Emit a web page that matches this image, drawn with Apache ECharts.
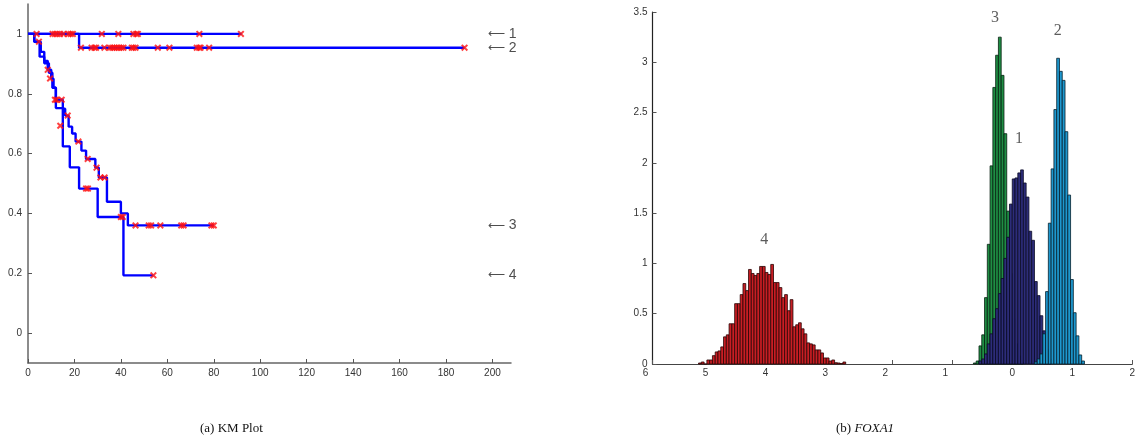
<!DOCTYPE html>
<html><head><meta charset="utf-8">
<script src="https://cdn.jsdelivr.net/npm/echarts@6/dist/echarts.min.js"></script>
<style>html,body{margin:0;padding:0;background:#fff}#c{width:1138px;height:446px}</style>
</head><body><div id="c"></div>
<script>
// ---------- KM plot data ----------
const kmTicksX = [0,20,40,60,80,100,120,140,160,180,200];
const kmTicksY = [0,0.2,0.4,0.6,0.8,1];
const curve1 = [[0,1],[92,1]];
const curve2 = [[0,1],[22,0.954],[188,0.954]];
const curve3 = [[0,1],[2.7,0.974],[5.5,0.94],[7,0.91],[8.5,0.88],[10,0.85],[11,0.82],[12,0.78],[15,0.75],[16,0.727],[17.5,0.69],[19,0.667],[20.5,0.64],[23,0.61],[25,0.582],[29,0.553],[30.5,0.52],[34,0.439],[40,0.40],[43,0.36],[80,0.36]];
const curve4 = [[0,1],[2.7,0.974],[5,0.924],[7,0.902],[9,0.87],[10.5,0.82],[12,0.752],[15,0.624],[18,0.554],[22,0.483],[30,0.388],[41.1,0.193],[54,0.193]];
const cens1 = [[3.7,1],[10.6,1],[11.6,1],[12.6,1],[13.8,1],[15.2,1],[17.4,1],[18.4,1],[19.3,1],[31.8,1],[38.9,1],[45.4,1],[46.6,1],[47.3,1],[73.8,1],[91.7,1]];
const cens2 = [22.8,27.4,28.6,29.3,32.9,35.3,36.3,37.2,38.2,39.2,40.2,41.1,44.7,45.4,46.3,55.9,60.9,72.7,73.7,74.3,78.0,188].map(t=>[t,0.954]);
const cens3 = [[4.7,0.974],[8.5,0.88],[9.5,0.851],[11.6,0.78],[12.3,0.78],[14.5,0.78],[17.1,0.727],[21.7,0.64],[25.7,0.582],[29.5,0.553],[31.2,0.52],[33,0.52],[46.3,0.36],[52,0.36],[53,0.36],[57,0.36],[66,0.36],[67,0.36],[79,0.36],[80,0.36]];
const cens4 = [[13.9,0.693],[25,0.483],[25.8,0.483],[40,0.388],[40.8,0.388],[54,0.193]];
const arrowNames = ['1','2','3','4'];

// ---------- Histogram data ----------
const binWidth = 0.0463;
const hist4Start = -5.232;
const hist4 = [0.01,0.02,0,0.04,0.04,0.083,0.12,0.13,0.17,0.27,0.29,0.40,0.40,0.60,0.60,0.69,0.80,0.73,0.94,0.90,0.88,0.90,0.97,0.97,0.91,0.89,0.99,0.81,0.81,0.76,0.66,0.69,0.53,0.64,0.37,0.39,0.41,0.35,0.30,0.21,0.20,0.19,0.14,0.14,0.11,0.06,0.06,0.03,0.04,0.013,0.01,0.005,0.02];
const hist3Start = -0.648;
const hist3 = [0.01,0.03,0.18,0.29,0.66,1.19,1.97,2.75,3.07,3.25,2.87,2.29,1.52,0.9,0.45,0.2,0.08,0.02];
const hist1Start = -0.556;
const hist1 = [0.03,0.05,0.1,0.2,0.3,0.45,0.55,0.7,0.85,1.05,1.26,1.59,1.84,1.85,1.90,1.93,1.80,1.66,1.32,1.23,0.82,0.68,0.48,0.33,0.15,0.05];
const hist2Start = 0.370;
const hist2 = [0.02,0.05,0.1,0.3,0.72,1.40,1.94,2.53,3.04,2.91,2.82,2.31,1.68,0.84,0.51,0.28,0.09,0.03];
const histTicksX = [-6,-5,-4,-3,-2,-1,0,1,2];
const histTicksY = [0,0.5,1,1.5,2,2.5,3,3.5];
const histLabels = [['4',-4.135,1.234],['3',-0.288,3.44],['2',0.757,3.31],['1',0.11,2.24]];

const chart = echarts.init(document.getElementById('c'), null, {renderer:'canvas'});

function histSeries(start, vals, fill, stroke){
  return {
    type:'custom', xAxisIndex:1, yAxisIndex:1, clip:false,
    data: vals.map((v,i)=>[start+i*binWidth, v]),
    renderItem:function(params, api){
      const x0 = api.value(0), h = api.value(1);
      const p0 = api.coord([x0, h]);
      const p1 = api.coord([x0+binWidth, 0]);
      return {type:'rect', shape:{x:p0[0], y:p0[1], width:p1[0]-p0[0], height:p1[1]-p0[1]},
        style:{fill:fill, stroke:stroke, lineWidth:0.8}};
    }
  };
}
const xPath = 'path://M2,0 L5,3 L8,0 L10,2 L7,5 L10,8 L8,10 L5,7 L2,10 L0,8 L3,5 L0,2 Z';
function kmLine(d){
  return {type:'line', xAxisIndex:0, yAxisIndex:0, step:'end', showSymbol:false, symbol:'none',
    data:d, lineStyle:{color:'#0000ff', width:2.4}, z:2, animation:false};
}
function cens(d){
  return {type:'scatter', xAxisIndex:0, yAxisIndex:0, symbol:xPath, symbolSize:7,
    itemStyle:{color:'#ff1010'}, data:d, z:3, animation:false};
}
const curves = [curve1,curve2,curve3,curve4];
const arrowData = curves.map((c,i)=>({value:[198, c[c.length-1][1]], name:arrowNames[i]}));

const axisLabelStyle = {color:'#333', fontFamily:'Liberation Sans', fontSize:10};

const option = {
  animation:false,
  grid:[
    {left:28, top:4, width:483, height:359},
    {left:652.5, top:12, width:482.5, height:352}
  ],
  xAxis:[
    {type:'value', gridIndex:0, min:0, max:208, interval:20,
     axisLine:{onZero:false, lineStyle:{color:'#666', width:1.5}},
     axisTick:{inside:true, length:4, lineStyle:{color:'#555'}, customValues:kmTicksX},
     axisLabel:{...axisLabelStyle, margin:5, customValues:kmTicksX},
     splitLine:{show:false}},
    {type:'value', gridIndex:1, min:-6, max:2, interval:1,
     axisLine:{onZero:false, lineStyle:{color:'#444', width:1.2}},
     axisTick:{inside:true, length:4, lineStyle:{color:'#555'}, customValues:histTicksX},
     axisLabel:{...axisLabelStyle, margin:4, customValues:histTicksX,
       formatter:v=> v<0 ? '{n|'+Math.abs(v)+'}' : String(v),
       rich:{n:{...axisLabelStyle, padding:[0,14,0,0]}}},
     splitLine:{show:false}}
  ],
  yAxis:[
    {type:'value', gridIndex:0, min:-0.1, max:1.1,
     axisLine:{show:true, onZero:false, lineStyle:{color:'#666', width:1.5}},
     axisTick:{show:true, inside:true, length:4, lineStyle:{color:'#555'}, customValues:kmTicksY},
     axisLabel:{...axisLabelStyle, margin:6, customValues:kmTicksY},
     splitLine:{show:false}},
    {type:'value', gridIndex:1, min:0, max:3.5, interval:0.5,
     axisLine:{show:true, onZero:false, lineStyle:{color:'#222', width:1.2}},
     axisTick:{show:true, inside:true, length:4, lineStyle:{color:'#555'}, customValues:histTicksY},
     axisLabel:{...axisLabelStyle, margin:5, customValues:histTicksY},
     splitLine:{show:false}}
  ],
  series:[
    kmLine(curve1), kmLine(curve2), kmLine(curve3), kmLine(curve4),
    cens(cens1), cens(cens2), cens(cens3), cens(cens4),
    {type:'scatter', xAxisIndex:0, yAxisIndex:0, symbolSize:0, data:arrowData, silent:true,
     label:{show:true, position:'right', distance:0, formatter:p=>'{a|\u27F5}{b| '+p.name+'}',
       rich:{a:{color:'#222', fontFamily:'DejaVu Sans', fontSize:12},
             b:{color:'#222', fontFamily:'Liberation Sans', fontSize:14}}}},
    histSeries(hist4Start, hist4, '#c81e24', '#2a0505'),
    histSeries(hist3Start, hist3, '#1f8e44', '#062010'),
    histSeries(hist1Start, hist1, '#2d2d7a', '#0a0a25'),
    histSeries(hist2Start, hist2, '#1e98cf', '#05202c'),
    {type:'scatter', xAxisIndex:1, yAxisIndex:1, symbolSize:0, silent:true,
     data:histLabels.map(l=>({value:[l[1],l[2]], name:l[0]})),
     label:{show:true, position:'inside', formatter:p=>p.name, color:'#333',
       fontFamily:'Liberation Serif', fontSize:16}}
  ],
  graphic:[
    {type:'text', left:200, top:422, style:{text:'(a) KM Plot', font:'13px "Liberation Serif"', fill:'#111'}},
    {type:'text', left:836, top:422, style:{text:'{r|(b) }{i|FOXA1}', font:'13px "Liberation Serif"', fill:'#111',
      rich:{r:{font:'13px "Liberation Serif"', fill:'#111'}, i:{font:'italic 13px "Liberation Serif"', fill:'#111'}}}}
  ]
};
chart.setOption(option);
</script></body></html>
